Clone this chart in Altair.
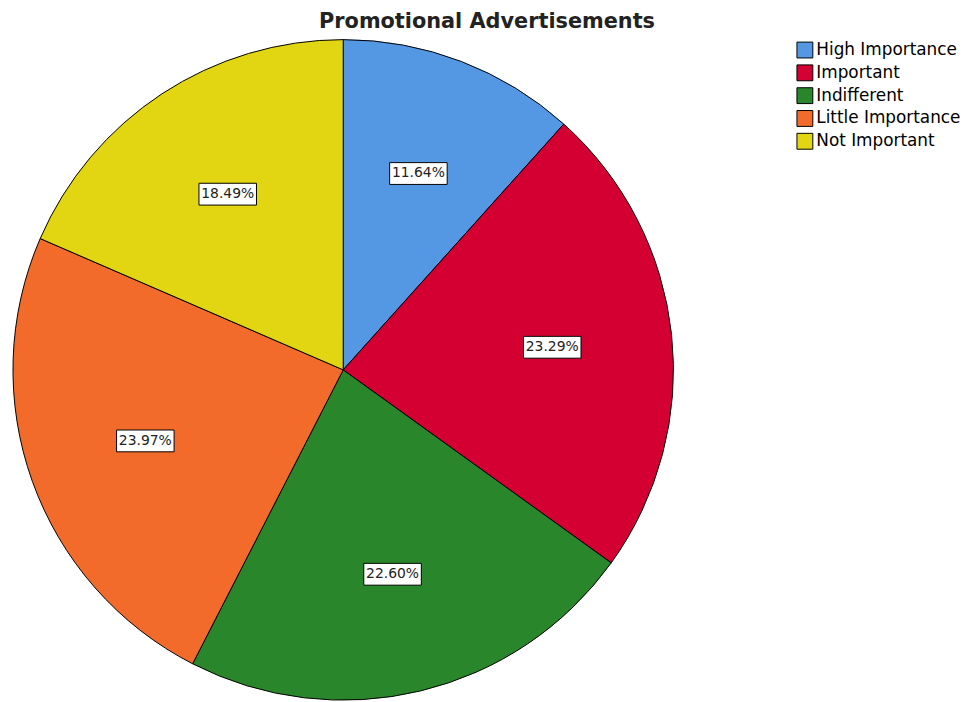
import altair as alt
import pandas as pd

categories = ["High Importance", "Important", "Indifferent", "Little Importance", "Not Important"]
percents = [11.64, 23.29, 22.60, 23.97, 18.49]
labels = ["11.64%", "23.29%", "22.60%", "23.97%", "18.49%"]
colors = ["#5497E3", "#D50032", "#2A862A", "#F26B2B", "#E2D512"]
title_text = "Promotional Advertisements"

CX, CY, R, LR = 338, 362, 333, 212

df = pd.DataFrame({
    "cat": categories,
    "pct": percents,
    "label": labels,
    "ord": list(range(len(categories))),
})

base = alt.Chart(df)

pie = base.mark_arc(radius=R, stroke="black", strokeWidth=1).encode(
    theta=alt.Theta("pct:Q", stack=True),
    color=alt.Color(
        "cat:N",
        scale=alt.Scale(domain=categories, range=colors),
        sort=categories,
        legend=alt.Legend(
            title=None,
            orient="none",
            legendX=795,
            legendY=31,
            symbolType="square",
            symbolSize=256,
            symbolStrokeColor="black",
            symbolStrokeWidth=1,
            symbolOpacity=1,
            labelFontSize=17,
            labelFont="DejaVu Sans",
            labelColor="black",
            labelOffset=3,
            rowPadding=2,
        ),
    ),
    order=alt.Order("ord:Q"),
    x=alt.value(CX),
    y=alt.value(CY),
)

pos = base.transform_window(
    cum="sum(pct)", sort=[alt.SortField("ord")], frame=[None, 0]
).transform_calculate(
    mid="(datum.cum - datum.pct/2) / 100 * 2 * PI",
).transform_calculate(
    lx=f"{CX} + {LR} * sin(datum.mid)",
    ly=f"{CY} - {LR} * cos(datum.mid)",
).transform_calculate(
    x1="datum.lx - 29", x2="datum.lx + 29", y1="datum.ly - 11", y2="datum.ly + 11"
)

boxes = pos.mark_rect(fill="white", stroke="black", strokeWidth=1).encode(
    x=alt.X("x1:Q", scale=None),
    x2="x2:Q",
    y=alt.Y("y1:Q", scale=None),
    y2="y2:Q",
)

texts = pos.mark_text(fontSize=14, font="DejaVu Sans", color="#222", baseline="middle", align="center").encode(
    x=alt.X("lx:Q", scale=None),
    y=alt.Y("ly:Q", scale=None),
    text="label:N",
)

title = alt.Chart(pd.DataFrame({"t": [title_text]})).mark_text(
    fontSize=21, font="DejaVu Sans", fontWeight="bold", color="#222", baseline="middle", align="center"
).encode(x=alt.value(483), y=alt.value(11), text="t:N")

chart = alt.layer(pie, boxes, texts, title).properties(
    width=971, height=694, padding=0, autosize=alt.AutoSizeParams(type="none")
).configure_view(stroke=None)

chart.save("out.html", embed_options={"renderer": "svg", "actions": False})
